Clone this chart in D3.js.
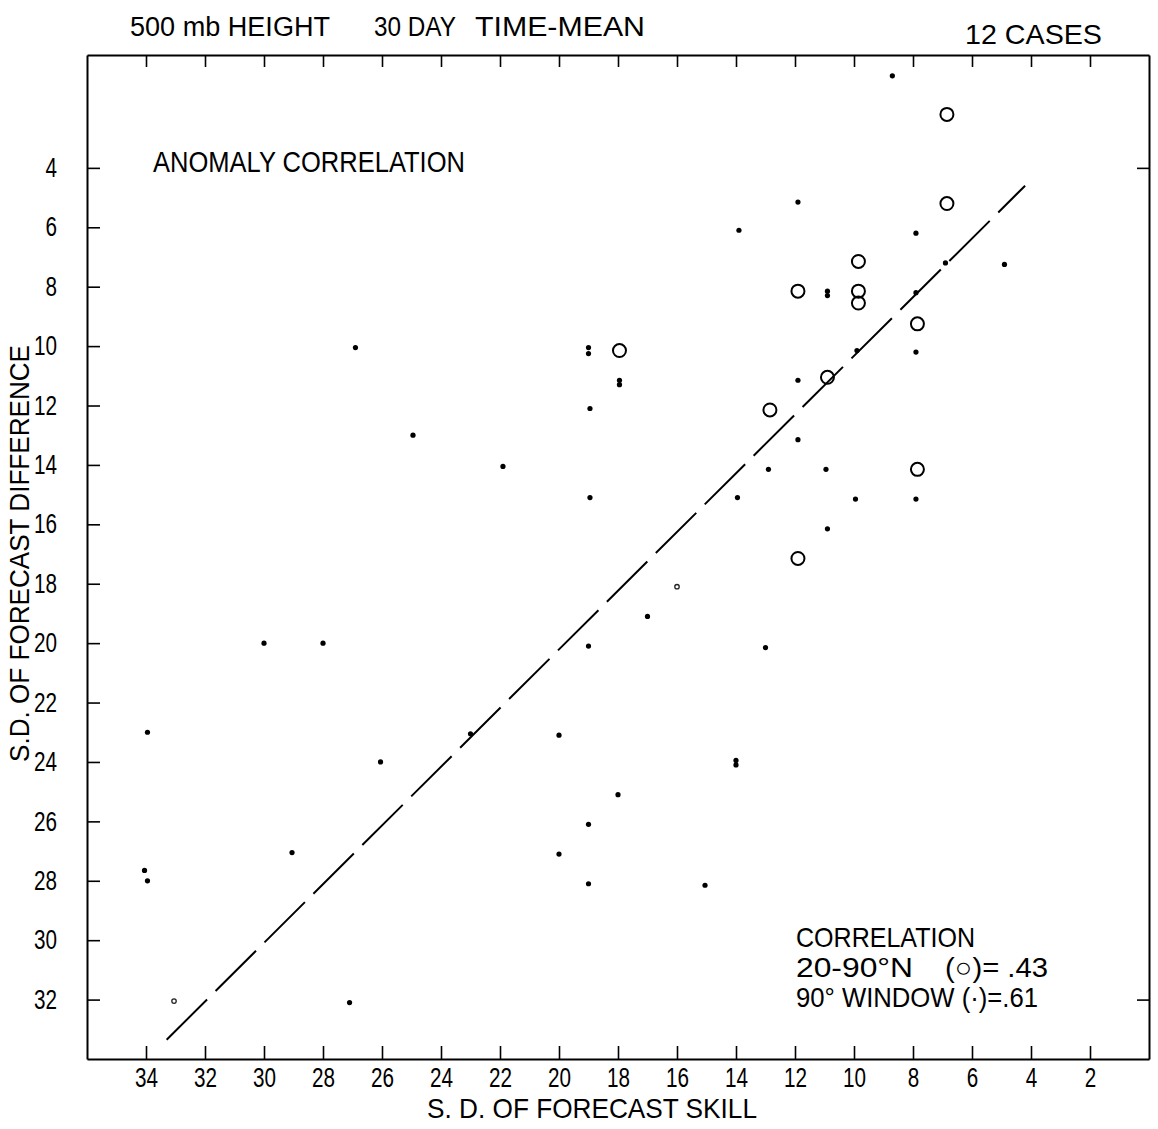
<!DOCTYPE html>
<html lang="en">
<head>
    <meta charset="UTF-8">
    <title>500 mb height - anomaly correlation</title>
    <script src="https://d3js.org/d3.v7.min.js"></script>
    <style>
    body{
        margin: 0;
        background: #fff;
    }
    svg text{
        font-family: "Liberation Sans", Arial, sans-serif;
        fill: #000;
    }
    .axis path,
    .axis line{
        fill: none;
        stroke: #000;
    }
    .axis path{
        stroke-width: 2;
    }
    .axis line{
        stroke-width: 1.6;
    }
    .axis text{
        font-size: 27px;
    }
    </style>
</head>
<body>
    <script>
    var width = 1158;
    var height = 1129;

    // tick labels
    var xTicks = [34, 32, 30, 28, 26, 24, 22, 20, 18, 16, 14, 12, 10, 8, 6, 4, 2];
    var yTicks = [4, 6, 8, 10, 12, 14, 16, 18, 20, 22, 24, 26, 28, 30, 32];
    var rightTicks = [4, 32];

    // 20-90N cases (open circles): [sd skill, sd difference]
    var openCircles = [
        [6.85, 2.2], [6.85, 5.2], [9.85, 7.15], [11.9, 8.15], [9.85, 8.15], [9.85, 8.55],
        [7.85, 9.25], [17.95, 10.15], [10.9, 11.05], [12.85, 12.15], [7.85, 14.15], [11.9, 17.15]
    ];

    // 90 deg window cases (dots)
    var dots = [
        [8.7, 0.9], [11.9, 5.15], [13.9, 6.1], [7.9, 6.2], [6.9, 7.2], [4.9, 7.25],
        [10.9, 8.15], [10.9, 8.3], [7.9, 8.2], [9.9, 10.15], [7.9, 10.2], [26.9, 10.05],
        [19.0, 10.05], [19.0, 10.25], [17.95, 11.15], [17.95, 11.3], [11.9, 11.15],
        [18.95, 12.1], [11.9, 13.15], [24.95, 13.0], [21.9, 14.05], [12.9, 14.15],
        [10.95, 14.15], [18.95, 15.1], [13.95, 15.1], [9.95, 15.15], [7.9, 15.15],
        [10.9, 16.15], [17.0, 19.1], [30.0, 20.0], [28.0, 20.0], [19.0, 20.1], [13.0, 20.15],
        [33.95, 23.0], [23.0, 23.05], [20.0, 23.1], [26.05, 24.0], [14.0, 23.95], [14.0, 24.1],
        [18.0, 25.1], [29.05, 27.05], [19.0, 26.1], [20.0, 27.1], [34.05, 27.65], [33.95, 28.0],
        [19.0, 28.1], [15.05, 28.15], [27.1, 32.1]
    ];

    // faint hollow dots
    var faintDots = [[33.05, 32.05], [16.0, 18.1]];

    // dashed fit line ends
    var fitLine = [[33.3, 33.35], [4.2, 4.6]];

    var svg = d3.select("body")
        .append("svg")
        .attr("width", width)
        .attr("height", height);

    svg.append("rect")
        .attr("width", width)
        .attr("height", height)
        .attr("fill", "#fff");

    // reversed scales
    var xScale = d3.scaleLinear()
        .domain([36, 0])
        .range([87, 1149]);

    var yScale = d3.scaleLinear()
        .domain([0.2, 34])
        .range([55, 1059]);

    var x0 = xScale.range()[0], x1 = xScale.range()[1];
    var y0 = yScale.range()[0], y1 = yScale.range()[1];

    // lettering is narrower than the font, squeeze the digits
    function narrow(sel) {
        sel.selectAll(".tick text")
            .attr("textLength", function(d) { return String(d).length * 11.5; })
            .attr("lengthAdjust", "spacingAndGlyphs");
    }

    // axes, ticks pointing inside the frame
    svg.append("g")
        .attr("class", "axis")
        .attr("transform", "translate(0," + y1 + ")")
        .call(d3.axisBottom(xScale).tickValues(xTicks).tickSizeInner(-13).tickSizeOuter(0).tickPadding(9))
        .call(narrow);

    svg.append("g")
        .attr("class", "axis")
        .attr("transform", "translate(0," + y0 + ")")
        .call(d3.axisTop(xScale).tickValues(xTicks).tickSizeInner(-12).tickSizeOuter(0).tickFormat(""));

    svg.append("g")
        .attr("class", "axis")
        .attr("transform", "translate(" + x0 + ",0)")
        .call(d3.axisLeft(yScale).tickValues(yTicks).tickSizeInner(-13).tickSizeOuter(0).tickPadding(30))
        .call(narrow);

    svg.append("g")
        .attr("class", "axis")
        .attr("transform", "translate(" + x1 + ",0)")
        .call(d3.axisRight(yScale).tickValues(rightTicks).tickSizeInner(-12).tickSizeOuter(0).tickFormat(""));

    // dashed line
    svg.append("path")
        .datum(fitLine)
        .attr("d", d3.line().x(function(d) { return xScale(d[0]); }).y(function(d) { return yScale(d[1]); }))
        .attr("fill", "none")
        .attr("stroke", "#000")
        .attr("stroke-width", 2)
        .attr("stroke-dasharray", "57,12");

    // points
    svg.append("g").selectAll("circle")
        .data(openCircles)
        .enter().append("circle")
        .attr("cx", function(d) { return xScale(d[0]); })
        .attr("cy", function(d) { return yScale(d[1]); })
        .attr("r", 6.5)
        .attr("fill", "none")
        .attr("stroke", "#000")
        .attr("stroke-width", 2);

    svg.append("g").selectAll("circle")
        .data(dots)
        .enter().append("circle")
        .attr("cx", function(d) { return xScale(d[0]); })
        .attr("cy", function(d) { return yScale(d[1]); })
        .attr("r", 2.6)
        .attr("fill", "#000");

    svg.append("g").selectAll("circle")
        .data(faintDots)
        .enter().append("circle")
        .attr("cx", function(d) { return xScale(d[0]); })
        .attr("cy", function(d) { return yScale(d[1]); })
        .attr("r", 2.2)
        .attr("fill", "none")
        .attr("stroke", "#222")
        .attr("stroke-width", 1.3);

    // texts
    function label(txt, x, y, size, len) {
        var t = svg.append("text")
            .attr("x", x)
            .attr("y", y)
            .attr("font-size", size)
            .text(txt);
        if (len) t.attr("textLength", len).attr("lengthAdjust", "spacingAndGlyphs");
        return t;
    }

    label("500 mb HEIGHT", 130, 36, 27, 200);
    label("30 DAY", 374, 36, 27, 82);
    label("TIME-MEAN", 475, 36, 27, 170);
    label("12 CASES", 965, 44, 28, 137);
    label("ANOMALY CORRELATION", 153, 172, 29, 312);

    label("S. D. OF FORECAST SKILL", 427, 1118, 28, 330);
    label("S.D. OF FORECAST DIFFERENCE", 0, 0, 27, 417)
        .attr("transform", "translate(29,762) rotate(-90)");

    label("CORRELATION", 796, 947, 28, 179);
    label("20-90°N", 796, 977, 28, 117);
    label("(○)= .43", 945, 977, 28, 103);
    label("90° WINDOW (·)=.61", 796, 1007, 28, 242);
    </script>
</body>
</html>
